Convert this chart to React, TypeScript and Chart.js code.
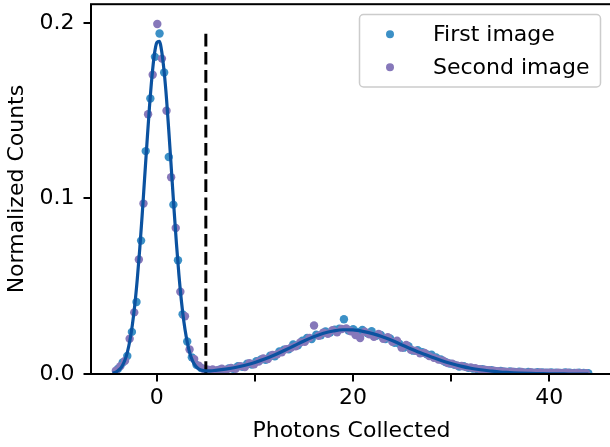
import React, { useEffect, useRef } from 'react';
import { Chart, registerables } from 'chart.js';

Chart.register(...registerables);

// ---- data ----
const seriesNames = ['First image', 'Second image'];
const xTitle = 'Photons Collected';
const yTitle = 'Normalized Counts';

const xTicks = [0, 10, 20, 30, 40];
const xTickLabels = ['0', '', '20', '', '40'];
const yTicks = [0, 0.1, 0.2];
const yTickLabels = ['0.0', '0.1', '0.2'];

const blueX = [
  -3.95, -3.48, -3.01, -2.54, -2.07, -1.6, -1.13, -0.66, -0.19, 0.28,
  0.75, 1.22, 1.69, 2.16, 2.63, 3.1, 3.57, 4.04, 4.51, 4.98,
  5.45, 5.92, 6.39, 6.86, 7.33, 7.8, 8.27, 8.74, 9.21, 9.68,
  10.15, 10.62, 11.09, 11.56, 12.03, 12.5, 12.97, 13.44, 13.91, 14.38,
  14.85, 15.32, 15.79, 16.26, 16.73, 17.2, 17.67, 18.14, 18.61, 19.08,
  19.55, 20.02, 20.49, 20.96, 21.43, 21.9, 22.37, 22.84, 23.31, 23.78,
  24.25, 24.72, 25.19, 25.66, 26.13, 26.6, 27.07, 27.54, 28.01, 28.48,
  28.95, 29.42, 29.89, 30.36, 30.83, 31.3, 31.77, 32.24, 32.71, 33.18,
  33.65, 34.12, 34.59, 35.06, 35.53, 36.0, 36.47, 36.94, 37.41, 37.88,
  38.35, 38.82, 39.29, 39.76, 40.23, 40.7, 41.17, 41.64, 42.11, 42.58,
  43.05, 43.52, 43.99,
];
const blueY = [
  0.003, 0.0066, 0.0103, 0.024, 0.041, 0.076, 0.127, 0.157, 0.1807, 0.194,
  0.1718, 0.1236, 0.0965, 0.0648, 0.034, 0.0185, 0.0095, 0.0052, 0.0034, 0.0026,
  0.002, 0.0016, 0.0025, 0.0022, 0.0032, 0.003, 0.0044, 0.0041, 0.0058, 0.0054,
  0.0073, 0.0083, 0.0081, 0.0104, 0.0101, 0.0128, 0.0139, 0.0141, 0.0168, 0.0163,
  0.019, 0.0205, 0.0199, 0.0224, 0.0221, 0.0243, 0.0236, 0.0252, 0.0258, 0.0312,
  0.0248, 0.0255, 0.0239, 0.0251, 0.0233, 0.0244, 0.0218, 0.0222, 0.0199, 0.0203,
  0.0178, 0.0172, 0.015, 0.0158, 0.0133, 0.0136, 0.0124, 0.0112, 0.011, 0.0094,
  0.0083, 0.0068, 0.0059, 0.0052, 0.0043, 0.0044, 0.0035, 0.0031, 0.0027, 0.0028,
  0.0021, 0.0022, 0.0016, 0.0018, 0.0013, 0.0015, 0.0011, 0.0013, 0.0009, 0.0011,
  0.0008, 0.001, 0.0009, 0.0007, 0.0009, 0.0008, 0.0006, 0.0009, 0.0007, 0.0006,
  0.0008, 0.0006, 0.0005,
];

const purpleX = [
  -4.18, -3.71, -3.24, -2.77, -2.3, -1.83, -1.36, -0.89, -0.42, 0.05,
  0.52, 0.99, 1.46, 1.93, 2.4, 2.87, 3.34, 3.81, 4.28, 4.75,
  5.22, 5.69, 6.16, 6.63, 7.1, 7.57, 8.04, 8.51, 8.98, 9.45,
  9.92, 10.39, 10.86, 11.33, 11.8, 12.27, 12.74, 13.21, 13.68, 14.15,
  14.62, 15.09, 15.56, 16.03, 16.5, 16.97, 17.44, 17.91, 18.38, 18.85,
  19.32, 19.79, 20.26, 20.73, 21.2, 21.67, 22.14, 22.61, 23.08, 23.55,
  24.02, 24.49, 24.96, 25.43, 25.9, 26.37, 26.84, 27.31, 27.78, 28.25,
  28.72, 29.19, 29.66, 30.13, 30.6, 31.07, 31.54, 32.01, 32.48, 32.95,
  33.42, 33.89, 34.36, 34.83, 35.3, 35.77, 36.24, 36.71, 37.18, 37.65,
  38.12, 38.59, 39.06, 39.53, 40.0, 40.47, 40.94, 41.41, 41.88, 42.35,
  42.82, 43.29, 43.76,
];
const purpleY = [
  0.0019, 0.0045, 0.0075, 0.0201, 0.0351, 0.0652, 0.0971, 0.148, 0.1705, 0.1994,
  0.1797, 0.15, 0.1121, 0.0832, 0.0469, 0.0329, 0.014, 0.0085, 0.0047, 0.003,
  0.0024, 0.0026, 0.0021, 0.003, 0.0025, 0.0034, 0.003, 0.0045, 0.0039, 0.0062,
  0.0055, 0.0071, 0.0088, 0.0085, 0.0108, 0.0112, 0.0124, 0.0142, 0.015, 0.0158,
  0.018, 0.0183, 0.0206, 0.0276, 0.0218, 0.0236, 0.0229, 0.025, 0.0238, 0.0256,
  0.026, 0.0244, 0.0222, 0.0205, 0.0241, 0.0226, 0.0212, 0.0228, 0.0201, 0.0209,
  0.0183, 0.019, 0.015, 0.0165, 0.0138, 0.0132, 0.0118, 0.012, 0.0102, 0.0092,
  0.0082, 0.0076, 0.0063, 0.0058, 0.0049, 0.0046, 0.0039, 0.0037, 0.0033, 0.0028,
  0.0025, 0.0021, 0.0019, 0.0016, 0.0015, 0.0012, 0.0013, 0.001, 0.0011, 0.0008,
  0.001, 0.0008, 0.0009, 0.0007, 0.0008, 0.0006, 0.0008, 0.0006, 0.0007, 0.0005,
  0.0006, 0.0005, 0.0004,
];

const fitX = [
  -4.5, -4.25, -4, -3.75, -3.5, -3.25, -3, -2.75, -2.5, -2.25,
  -2, -1.75, -1.5, -1.25, -1, -0.75, -0.5, -0.25, 0, 0.25,
  0.5, 0.75, 1, 1.25, 1.5, 1.75, 2, 2.25, 2.5, 2.75,
  3, 3.25, 3.5, 3.75, 4, 4.25, 4.5, 4.75, 5, 5.5,
  6, 7, 8, 9, 10, 11, 12, 13, 14, 15,
  16, 17, 18, 19, 20, 21, 22, 23, 24, 25,
  26, 27, 28, 29, 30, 31, 32, 33, 34, 35,
  36, 37, 38, 39, 40, 41, 42, 43, 44,
];
const fitY = [
  0.0005, 0.0009, 0.0017, 0.0029, 0.0049, 0.008, 0.0125, 0.0189, 0.0277, 0.0391,
  0.0535, 0.0706, 0.09, 0.111, 0.132, 0.152, 0.169, 0.182, 0.1888, 0.1896,
  0.1838, 0.1721, 0.1561, 0.1363, 0.1153, 0.0942, 0.0744, 0.0568, 0.042, 0.0302,
  0.0212, 0.0143, 0.0095, 0.0063, 0.0043, 0.003, 0.0023, 0.0019, 0.0018, 0.0018,
  0.0021, 0.0028, 0.0037, 0.005, 0.0066, 0.0085, 0.0108, 0.0134, 0.0161, 0.0188,
  0.0212, 0.0232, 0.0245, 0.0252, 0.0251, 0.0243, 0.023, 0.0212, 0.0191, 0.0165,
  0.0141, 0.0118, 0.0097, 0.0077, 0.006, 0.0045, 0.0033, 0.0024, 0.0017, 0.0011,
  0.0008, 0.0005, 0.0003, 0.0002, 0.0001, 0.0001, 0.0, 0.0, 0.0,
];

const thresholdX = [5, 5];
const thresholdY = [0, 0.194];

const X_MIN = -6.71;
const X_MAX = 46.39;
const Y_MIN = 0;
const Y_MAX = 0.2107;

// ---- styles ----
const BLUE = 'rgb(60,144,198)';
const PURPLE = 'rgb(134,120,186)';
const FIT = '#0b52a0';
const FONT_FAMILY = "'DejaVu Sans', sans-serif";
const FONT_SIZE = 22;

const zip = (xs: number[], ys: number[]) => xs.map((x, i) => ({ x, y: ys[i] }));

export default function App() {
  const ref = useRef<HTMLCanvasElement>(null);

  useEffect(() => {
    const canvas = ref.current;
    if (!canvas) return;

    const framePlugin = {
      id: 'frame',
      afterDatasetsDraw(chart: any) {
        const { ctx, chartArea: a } = chart;
        ctx.save();
        ctx.strokeStyle = '#000';
        ctx.lineWidth = 2;
        ctx.strokeRect(a.left, a.top, a.right - a.left, a.bottom - a.top);
        ctx.restore();
      },
    };

    const legendPlugin = {
      id: 'innerLegend',
      afterDraw(chart: any) {
        const { ctx } = chart;
        const bx = 359.5, by = 14.5, bw = 241, bh = 72.5, r = 4;
        ctx.save();
        ctx.beginPath();
        ctx.moveTo(bx + r, by);
        ctx.lineTo(bx + bw - r, by);
        ctx.arcTo(bx + bw, by, bx + bw, by + r, r);
        ctx.lineTo(bx + bw, by + bh - r);
        ctx.arcTo(bx + bw, by + bh, bx + bw - r, by + bh, r);
        ctx.lineTo(bx + r, by + bh);
        ctx.arcTo(bx, by + bh, bx, by + bh - r, r);
        ctx.lineTo(bx, by + r);
        ctx.arcTo(bx, by, bx + r, by, r);
        ctx.closePath();
        ctx.fillStyle = 'rgba(255,255,255,0.8)';
        ctx.fill();
        ctx.strokeStyle = '#cccccc';
        ctx.lineWidth = 1.5;
        ctx.stroke();

        const colors = [BLUE, PURPLE];
        const dotY = [34.3, 67.3];
        const baseY = [41, 73.5];
        ctx.font = `${FONT_SIZE}px ${FONT_FAMILY}`;
        ctx.textAlign = 'left';
        ctx.textBaseline = 'alphabetic';
        seriesNames.forEach((name, i) => {
          ctx.beginPath();
          ctx.arc(390, dotY[i], 4, 0, Math.PI * 2);
          ctx.fillStyle = colors[i];
          ctx.fill();
          ctx.fillStyle = '#000';
          ctx.fillText(name, 433, baseY[i]);
        });
        ctx.restore();
      },
    };

    const tickFont = { family: FONT_FAMILY, size: FONT_SIZE };

    const chart = new Chart(canvas, {
      type: 'scatter',
      data: {
        datasets: [
          {
            label: 'fit',
            data: zip(fitX, fitY),
            showLine: true,
            borderColor: FIT,
            backgroundColor: FIT,
            borderWidth: 3.2,
            pointRadius: 0,
            cubicInterpolationMode: 'monotone',
            clip: 0,
          } as any,
          {
            label: 'threshold',
            data: zip(thresholdX, thresholdY),
            showLine: true,
            borderColor: '#000',
            borderWidth: 3,
            borderDash: [12.7, 5.5],
            pointRadius: 0,
          } as any,
          {
            label: seriesNames[1],
            data: zip(purpleX, purpleY),
            backgroundColor: PURPLE,
            borderColor: PURPLE,
            pointRadius: 4.2,
            pointBorderWidth: 0,
            clip: 0,
          } as any,
          {
            label: seriesNames[0],
            data: zip(blueX, blueY),
            backgroundColor: BLUE,
            borderColor: BLUE,
            pointRadius: 4.2,
            pointBorderWidth: 0,
            clip: 0,
          } as any,
        ],
      },
      options: {
        animation: false,
        responsive: false,
        devicePixelRatio: 1,
        events: [],
        layout: { padding: { left: 0, right: 3, top: 1, bottom: 0 } },
        plugins: {
          legend: { display: false },
          tooltip: { enabled: false },
        },
        scales: {
          x: {
            type: 'linear',
            min: X_MIN,
            max: X_MAX,
            afterBuildTicks: (scale: any) => {
              scale.ticks = xTicks.map((value) => ({ value }));
            },
            afterFit: (scale: any) => {
              scale.height = 73;
              scale.paddingLeft = 0;
              scale.paddingRight = 0;
            },
            ticks: {
              autoSkip: false,
              maxRotation: 0,
              padding: 4,
              color: '#000',
              font: tickFont,
              callback: (_v: any, i: number) => xTickLabels[i],
            },
            grid: {
              display: true,
              drawOnChartArea: false,
              drawTicks: true,
              tickLength: 7.5,
              tickWidth: 2,
              tickColor: '#000',
              color: '#000',
              lineWidth: 2,
            },
            border: { display: false },
            title: {
              display: true,
              text: xTitle,
              color: '#000',
              font: tickFont,
              padding: { top: 0, bottom: 3 },
            },
          },
          y: {
            type: 'linear',
            min: Y_MIN,
            max: Y_MAX,
            afterBuildTicks: (scale: any) => {
              scale.ticks = yTicks.map((value) => ({ value }));
            },
            afterFit: (scale: any) => {
              scale.width = 91;
              scale.paddingTop = 0;
              scale.paddingBottom = 0;
            },
            ticks: {
              autoSkip: false,
              padding: 9,
              color: '#000',
              font: tickFont,
              callback: (_v: any, i: number) => yTickLabels[i],
            },
            grid: {
              display: true,
              drawOnChartArea: false,
              drawTicks: true,
              tickLength: 7.5,
              tickWidth: 2,
              tickColor: '#000',
              color: '#000',
              lineWidth: 2,
            },
            border: { display: false },
            title: {
              display: true,
              text: yTitle,
              color: '#000',
              font: tickFont,
              padding: { top: 4, bottom: 0 },
            },
          },
        },
      } as any,
      plugins: [framePlugin, legendPlugin],
    });

    return () => chart.destroy();
  }, []);

  return (
    <div
      style={{
        position: 'absolute',
        left: 0,
        top: 0,
        width: 610,
        height: 447,
        overflow: 'hidden',
        background: '#fff',
      }}
    >
      <canvas ref={ref} width={616} height={447} style={{ width: 616, height: 447, display: 'block' }} />
    </div>
  );
}
